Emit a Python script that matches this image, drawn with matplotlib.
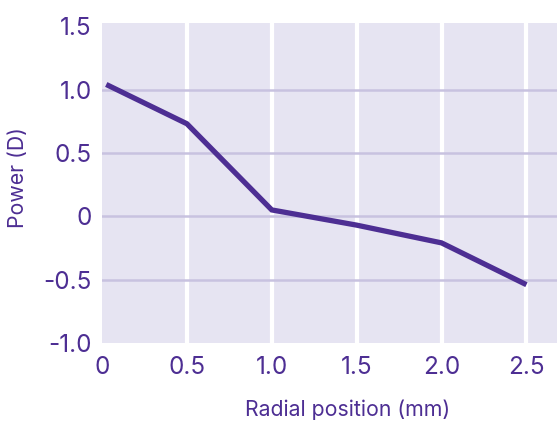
import numpy as np
import matplotlib.pyplot as plt

# data
radial_mm = [0.025, 0.5, 1.0, 1.5, 2.0, 2.5]
power_d = [1.04, 0.73, 0.05, -0.07, -0.21, -0.54]

x_ticks = [0, 0.5, 1.0, 1.5, 2.0, 2.5]
x_labels = ["0", "0.5", "1.0", "1.5", "2.0", "2.5"]
y_ticks = [-1.0, -0.5, 0, 0.5, 1.0, 1.5]
y_labels = ["-1.0", "-0.5", "0", "0.5", "1.0", "1.5"]

PURPLE = "#4d2e93"
BG = "#e6e4f2"
HGRID = "#c8c2e0"

plt.rcParams["font.family"] = ["Inter", "DejaVu Sans"]

fig = plt.figure(figsize=(5.57, 4.23), dpi=100)
ax = fig.add_axes([102 / 557, 1 - 343 / 423, (557 - 102) / 557, (343 - 23) / 423])
ax.set_facecolor(BG)

for x in x_ticks[1:]:
    ax.axvline(x, color="white", lw=3, zorder=1)
for y in y_ticks[1:-1]:
    ax.axhline(y, color=HGRID, lw=1.8, zorder=1)

ax.plot(radial_mm, power_d, color=PURPLE, lw=3.8, solid_capstyle="butt",
        solid_joinstyle="miter", zorder=3)

ax.set_xlim(0, 2.68)
ax.set_ylim(-1.0, 1.525)
ax.set_xticks(x_ticks)
ax.set_xticklabels(x_labels)
ax.set_yticks(y_ticks)
ax.set_yticklabels(y_labels)
ax.tick_params(length=0, labelsize=17.5, colors=PURPLE)
ax.tick_params(axis="x", pad=9)
ax.tick_params(axis="y", pad=7.5)
for s in ax.spines.values():
    s.set_visible(False)

ax.set_xlabel("Radial position (mm)", fontsize=15.3, color=PURPLE)
ax.set_ylabel("Power (D)", fontsize=15.3, color=PURPLE)
ax.xaxis.set_label_coords((348 - 102) / 455, -(410 - 343) / 320)
ax.yaxis.set_label_coords(-(102 - 18) / 455, (343 - 178) / 320)
ax.xaxis.label.set_va("center")
ax.yaxis.label.set_va("center")

fig.savefig("out.png", dpi=100)
